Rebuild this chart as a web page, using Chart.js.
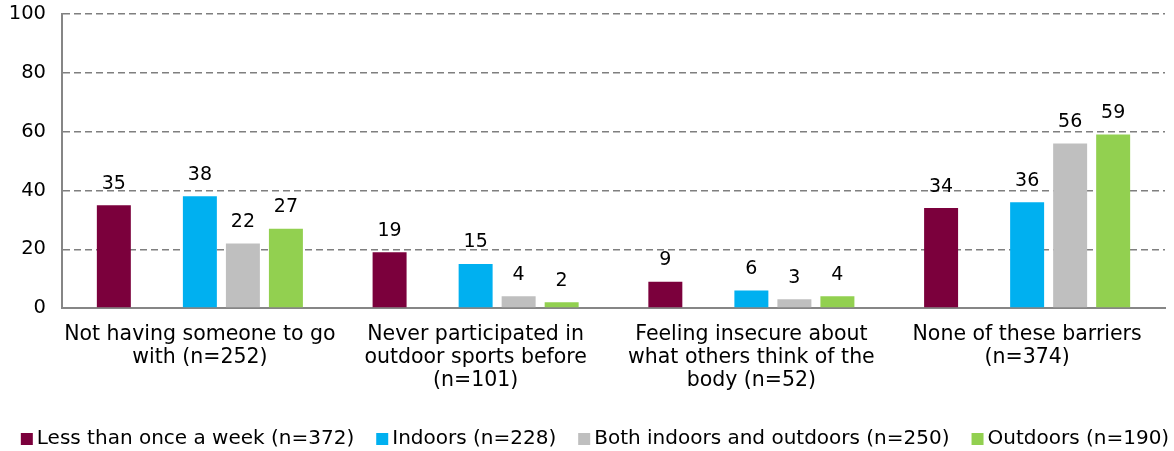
<!DOCTYPE html>
<html>
<head>
<meta charset="utf-8">
<script src="https://cdn.jsdelivr.net/npm/chart.js@4.4.0/dist/chart.umd.min.js"></script>
<style>
  html, body { margin: 0; padding: 0; background: #fff; }
  #wrap { width: 1174px; height: 451px; }
</style>
</head>
<body>
<div id="wrap"><canvas id="chart" width="1174" height="451"></canvas></div>
<script>
const categories = [
    ['Not having someone to go', 'with (n=252)'],
    ['Never participated in', 'outdoor sports before', '(n=101)'],
    ['Feeling insecure about', 'what others think of the', 'body (n=52)'],
    ['None of these barriers', '(n=374)']
];

const seriesNames = [
    'Less than once a week (n=372)',
    'Indoors (n=228)',
    'Both indoors and outdoors (n=250)',
    'Outdoors (n=190)'
];

const lessThanWeekly = [35, 19, 9, 34];
const indoors = [38, 15, 6, 36];
const bothIndoorsOutdoors = [22, 4, 3, 56];
const outdoors = [27, 2, 4, 59];

const yTicks = [0, 20, 40, 60, 80, 100];

const colors = ['#7B003C', '#00B0F0', '#BFBFBF', '#92D050'];

const FONT = '"DejaVu Sans", sans-serif';

// draws the value above each bar
const valueLabels = {
    id: 'valueLabels',
    afterDatasetsDraw(chart) {
        const ctx = chart.ctx;
        ctx.save();
        ctx.font = '19px ' + FONT;
        ctx.fillStyle = '#000';
        ctx.textAlign = 'center';
        ctx.textBaseline = 'bottom';
        chart.data.datasets.forEach((ds, i) => {
            if (ds.spacer) return;
            const meta = chart.getDatasetMeta(i);
            meta.data.forEach((bar, j) => {
                const v = ds.data[j];
                if (v == null) return;
                ctx.fillText(String(v), bar.x, bar.y - 12);
            });
        });
        ctx.restore();
    }
};

// legend in one row along the bottom, squares close to the text
const bottomLegend = {
    id: 'bottomLegend',
    afterDraw(chart) {
        const ctx = chart.ctx;
        const items = chart.data.datasets.filter(ds => !ds.spacer);
        const box = 12, textGap = 4, itemGap = 22;
        const cy = chart.height - 12;
        ctx.save();
        ctx.font = '20px ' + FONT;
        ctx.textBaseline = 'middle';
        ctx.textAlign = 'left';
        const widths = items.map(ds => box + textGap + ctx.measureText(ds.label).width);
        const total = widths.reduce((a, b) => a + b, 0) + itemGap * (items.length - 1);
        let x = chart.width / 2 + 8 - total / 2;
        items.forEach((ds, i) => {
            ctx.fillStyle = ds.backgroundColor;
            ctx.fillRect(x, cy - box / 2, box, box);
            ctx.fillStyle = '#000';
            ctx.fillText(ds.label, x + box + textGap, cy);
            x += widths[i] + itemGap;
        });
        ctx.restore();
    }
};

const barOpts = { barPercentage: 0.79, categoryPercentage: 0.78 };

new Chart(document.getElementById('chart'), {
    type: 'bar',
    data: {
        labels: categories,
        datasets: [
            { label: seriesNames[0], data: lessThanWeekly, backgroundColor: colors[0], ...barOpts },
            // empty slot between the first and second series
            { label: '', data: [null, null, null, null], spacer: true, backgroundColor: 'rgba(0,0,0,0)', ...barOpts },
            { label: seriesNames[1], data: indoors, backgroundColor: colors[1], ...barOpts },
            { label: seriesNames[2], data: bothIndoorsOutdoors, backgroundColor: colors[2], ...barOpts },
            { label: seriesNames[3], data: outdoors, backgroundColor: colors[3], ...barOpts }
        ]
    },
    options: {
        responsive: false,
        animation: false,
        layout: { padding: { top: 14, right: 9, left: 0, bottom: 44 } },
        plugins: {
            tooltip: { enabled: false },
            legend: { display: false }
        },
        scales: {
            x: {
                grid: { display: false, drawTicks: false },
                border: { color: '#868686', width: 2 },
                ticks: {
                    color: '#000',
                    font: { family: FONT, size: 20.5, lineHeight: 1.12 },
                    maxRotation: 0,
                    autoSkip: false,
                    padding: 15
                }
            },
            y: {
                min: 0,
                max: 100,
                afterFit: scale => {
                    scale.width = 62;
                    scale.paddingTop = 0;
                    scale.paddingBottom = 0;
                },
                afterBuildTicks: scale => { scale.ticks = yTicks.map(v => ({ value: v })); },
                grid: {
                    color: ctx => ctx.tick.value === 0 ? 'rgba(0,0,0,0)' : '#7f7f7f',
                    lineWidth: 1.5,
                    drawTicks: false
                },
                border: { color: '#868686', width: 2, dash: [7, 4] },
                ticks: {
                    color: '#000',
                    font: { family: FONT, size: 19.5 },
                    padding: 16
                }
            }
        }
    },
    plugins: [valueLabels, bottomLegend]
});
</script>
</body>
</html>
